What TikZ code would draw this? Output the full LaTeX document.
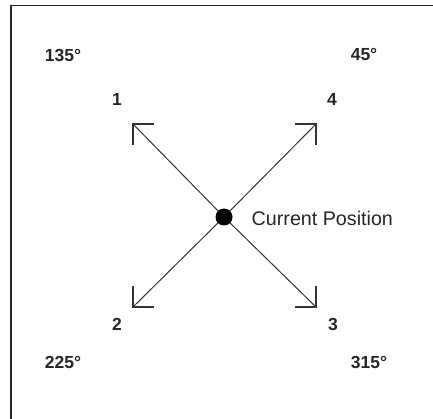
\documentclass[tikz,border=0pt]{standalone}
\usepackage{fontspec}
\setmainfont{Liberation Sans}
\begin{document}
\begin{tikzpicture}[x=1pt,y=-1pt,
  lbl/.style={font=\fontsize{17.5}{17.5}\selectfont\bfseries, inner sep=0pt, text=black!85},
  cp/.style={font=\fontsize{19.7}{19.7}\selectfont, inner sep=0pt, anchor=west, text=black!85},
  ray/.style={line width=1pt, draw=black!80},
  headln/.style={line width=1.1pt, draw=black!80}]
\useasboundingbox (0,0) rectangle (433,419);
\draw[line width=1.6pt, draw=black!85] (11,440) -- (11,5.5) -- (445,5.5);
\coordinate (o) at (224,217);
\coordinate (t1) at (133,124);
\coordinate (t4) at (316,124);
\coordinate (t2) at (133,307);
\coordinate (t3) at (316,307);
\draw[ray] (o) -- (t1);
\draw[ray] (o) -- (t4);
\draw[ray] (o) -- (t2);
\draw[ray] (o) -- (t3);
\node[circle, fill=black, inner sep=0pt, minimum size=17pt] (c) at (o) {};
\draw[headln] ([xshift=21pt]t1) -- (t1) -- ([yshift=-21pt]t1);
\draw[headln] ([xshift=-21pt]t4) -- (t4) -- ([yshift=-21pt]t4);
\draw[headln] ([xshift=21pt]t2) -- (t2) -- ([yshift=21pt]t2);
\draw[headln] ([xshift=-21pt]t3) -- (t3) -- ([yshift=21pt]t3);
\node[cp] (cpos) at (251.5,218) {Current Position};
\node[lbl] (n1) at (117,99) {1};
\node[lbl] (n4) at (332,99) {4};
\node[lbl] (n2) at (117,324) {2};
\node[lbl] (n3) at (333,324) {3};
\node[lbl] (a135) at (63,55) {135°};
\node[lbl] (a45) at (364,55) {45°};
\node[lbl] (a225) at (63,362) {225°};
\node[lbl] (a315) at (369,362) {315°};
\end{tikzpicture}
\end{document}
